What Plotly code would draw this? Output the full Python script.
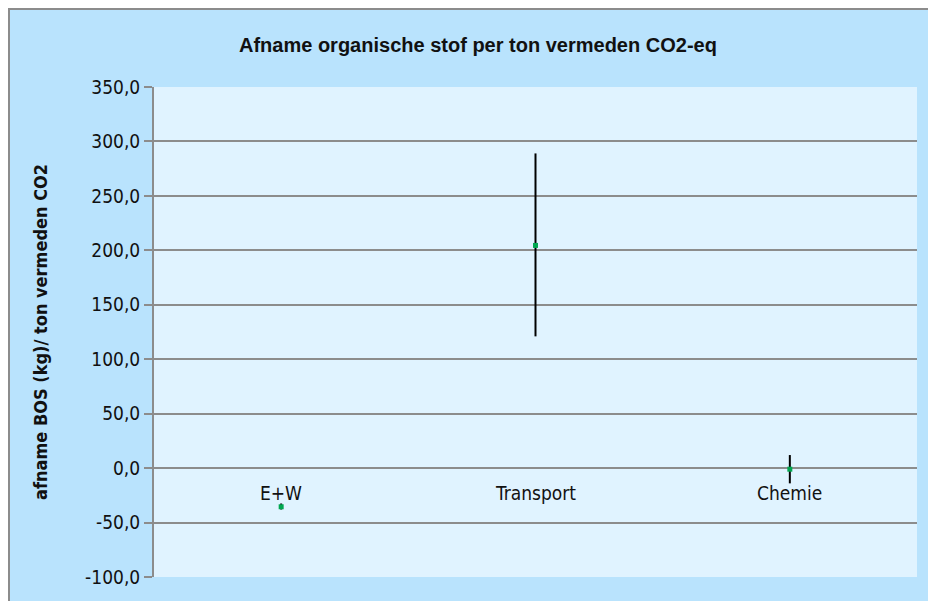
import plotly.graph_objects as go

categories = ["E+W", "Transport", "Chemie"]
values = [-35.5, 204.5, -1.0]
err_plus = [3.0, 84.5, 13.0]
err_minus = [2.5, 83.5, 13.0]
y_ticks = [-100, -50, 0, 50, 100, 150, 200, 250, 300, 350]
y_tick_labels = ["-100,0", "-50,0", "0,0", "50,0", "100,0", "150,0", "200,0", "250,0", "300,0", "350,0"]

OFF = 8  # page body margin
W, H = 936 - OFF, 601 - OFF
# plot area in reference pixels: x 154..917, y 87..577
L, R, T, B = 154 - OFF, 936 - 917, 87 - OFF, 601 - 577
pw, ph = W - L - R, H - T - B

def px_x(px):
    return (px - OFF - L) / pw

def px_y(py):
    return (H - B - (py - OFF)) / ph

TICKFONT = "DejaVu Sans Condensed, DejaVu Sans"

fig = go.Figure()
fig.add_trace(go.Scatter(
    x=[0, 1, 2], y=values, mode="markers",
    marker=dict(symbol="square", size=5, color="#00A650", line=dict(width=0)),
    error_y=dict(type="data", symmetric=False, array=err_plus, arrayminus=err_minus,
                 color="black", thickness=2, width=0),
    showlegend=False, hoverinfo="skip"))

annotations = [dict(x=i, y=0, xref="x", yref="y", text=c, showarrow=False,
                    yanchor="top", yshift=-12,
                    font=dict(family=TICKFONT, size=19, color="#111111"))
               for i, c in enumerate(categories)]

annotations.append(dict(x=px_x(478), y=px_y(45), xref="paper", yref="paper",
                        text="<b>Afname organische stof per ton vermeden CO2-eq</b>",
                        showarrow=False, xanchor="center", yanchor="middle",
                        font=dict(family="Liberation Sans Narrow, Liberation Sans", size=20, color="#111111")))

annotations.append(dict(x=px_x(40), y=px_y(332), xref="paper", yref="paper",
                        text="<b>afname BOS (kg)/ ton vermeden CO2</b>", textangle=-90,
                        showarrow=False, xanchor="center", yanchor="middle",
                        font=dict(family=TICKFONT, size=18, color="#111111")))

shapes = [
    dict(type="rect", xref="paper", yref="paper", x0=px_x(9), x1=px_x(960),
         y0=px_y(640), y1=px_y(9), fillcolor="#B9E3FD",
         line=dict(color="#8C8C8C", width=2), layer="below"),
    dict(type="rect", xref="paper", yref="paper", x0=0, x1=1, y0=0, y1=1,
         fillcolor="#E0F3FF", line=dict(width=0), layer="below"),
]

fig.update_layout(
    width=W, height=H,
    margin=dict(l=L, r=R, t=T, b=B, pad=0),
    paper_bgcolor="white", plot_bgcolor="rgba(0,0,0,0)",
    shapes=shapes, annotations=annotations,
    xaxis=dict(range=[-0.5, 2.5], showgrid=False, zeroline=False, showticklabels=False,
               showline=False, ticks=""),
    yaxis=dict(range=[-100, 350], tickvals=y_ticks, ticktext=y_tick_labels,
               showgrid=True, gridcolor="#8C8C8C", gridwidth=2, zeroline=False,
               showline=True, linecolor="#8C8C8C", linewidth=2,
               ticks="outside", ticklen=8, tickcolor="#8C8C8C", tickwidth=2,
               tickfont=dict(family=TICKFONT, size=19, color="#111111")),
)

fig.write_html("out.html")
